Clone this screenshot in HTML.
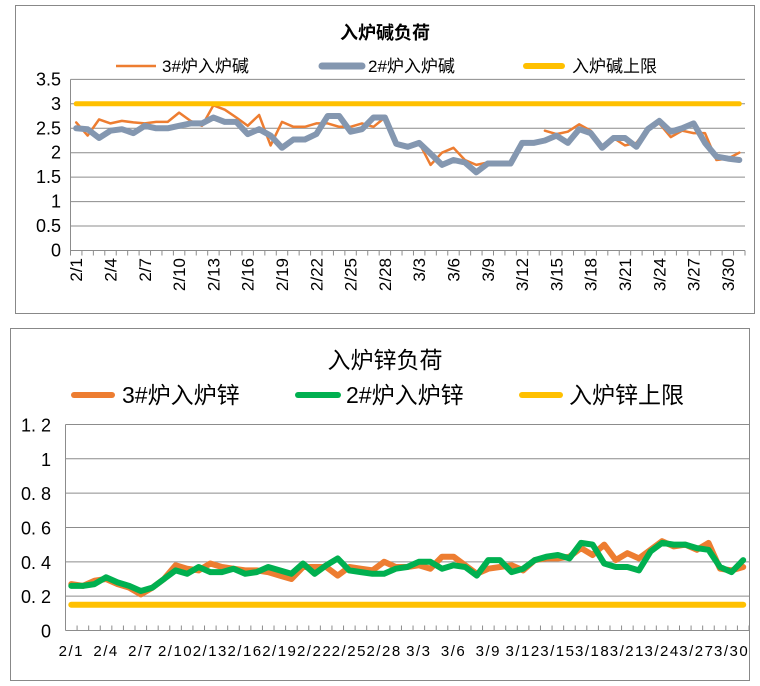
<!DOCTYPE html>
<html><head><meta charset="utf-8"><style>
body{margin:0;background:#fff;}
svg{display:block;font-family:"Liberation Sans","Noto Sans CJK SC",sans-serif;}
</style></head><body>
<svg id="s" width="760" height="686" xmlns="http://www.w3.org/2000/svg">
<rect x="15.5" y="5.5" width="739" height="308" fill="#fff" stroke="#888"/>
<rect x="10.5" y="328.5" width="739" height="352" fill="#fff" stroke="#888"/>
<text x="385" y="39" text-anchor="middle" font-size="18" font-weight="bold">入炉碱负荷</text>
<line x1="116" y1="66" x2="156" y2="66" stroke="#ED7D31" stroke-width="2.5"/>
<text x="162" y="72" font-size="17">3#炉入炉碱</text>
<line x1="322" y1="66" x2="362" y2="66" stroke="#8497B0" stroke-width="7" stroke-linecap="round"/>
<text x="368" y="72" font-size="17">2#炉入炉碱</text>
<line x1="526" y1="66" x2="562" y2="66" stroke="#FFC000" stroke-width="6" stroke-linecap="round"/>
<text x="572" y="72" font-size="17">入炉碱上限</text>
<text x="385" y="368" text-anchor="middle" font-size="23">入炉锌负荷</text>
<line x1="74" y1="395" x2="112" y2="395" stroke="#ED7D31" stroke-width="6" stroke-linecap="round"/>
<text x="122" y="403" font-size="23">3#炉入炉锌</text>
<line x1="298" y1="395" x2="338" y2="395" stroke="#00B050" stroke-width="6" stroke-linecap="round"/>
<text x="346" y="403" font-size="23">2#炉入炉锌</text>
<line x1="522" y1="395" x2="560" y2="395" stroke="#FFC000" stroke-width="6" stroke-linecap="round"/>
<text x="569" y="403" font-size="23">入炉锌上限</text>
<g id="g"></g>
</svg>
<script>
var NS="http://www.w3.org/2000/svg",g=document.getElementById('g');
function el(t,a,txt){var e=document.createElementNS(NS,t);for(var k in a)e.setAttribute(k,a[k]);if(txt!==undefined)e.textContent=txt;g.appendChild(e);return e;}
var labels=[];for(var i=1;i<=28;i++)labels.push('2/'+i);for(var i=1;i<=31;i++)labels.push('3/'+i);
var N=59;
function line(pts,color,w){var d='',pen=false;pts.forEach(function(p){if(p==null){pen=false;return;}d+=(pen?'L':'M')+p[0].toFixed(1)+' '+p[1].toFixed(1);pen=true;});el('path',{d:d,fill:'none',stroke:color,'stroke-width':w,'stroke-linejoin':'round','stroke-linecap':'round'});}
(function(){
var x0=70.5,x1=745,y0=250.5,sc=48.9,cw=(x1-x0)/N;
function X(i){return x0+cw*(i+0.5);}function Y(v){return y0-v*sc;}
for(var v=0.5;v<=3.51;v+=0.5)el('line',{x1:x0,x2:x1,y1:Y(v),y2:Y(v),stroke:'#8c8c8c','stroke-width':1});
for(var v=0;v<=3.51;v+=0.5)el('text',{x:61,y:Y(v)+6,'text-anchor':'end','font-size':18},String(v));
el('line',{x1:x0,x2:x0,y1:Y(3.5),y2:y0,stroke:'#8c8c8c'});
el('line',{x1:x0,x2:x1,y1:y0,y2:y0,stroke:'#8c8c8c'});
for(var i=0;i<=N;i++)el('line',{x1:x0+cw*i,x2:x0+cw*i,y1:y0,y2:y0+5,stroke:'#8c8c8c'});
for(var i=0;i<N;i+=3){el('text',{transform:'translate('+(X(i)+6)+',258) rotate(-90)','text-anchor':'end','font-size':17},labels[i]);}
var gy=[2.5,2.48,2.3,2.45,2.48,2.4,2.55,2.5,2.5,2.55,2.6,2.6,2.72,2.63,2.63,2.38,2.48,2.35,2.1,2.27,2.27,2.38,2.75,2.75,2.43,2.48,2.72,2.72,2.18,2.12,2.2,1.98,1.75,1.85,1.8,1.6,1.78,1.78,1.78,2.2,2.2,2.25,2.35,2.2,2.48,2.4,2.1,2.3,2.3,2.12,2.48,2.65,2.43,2.5,2.6,2.2,1.92,1.88,1.85];
var oy=[2.62,2.35,2.68,2.6,2.65,2.62,2.6,2.63,2.63,2.82,2.65,2.55,2.97,2.88,2.72,2.55,2.77,2.15,2.63,2.53,2.53,2.6,2.6,2.53,2.53,2.6,2.53,2.72,2.18,2.12,2.2,1.75,2.0,2.1,1.85,1.75,1.8,1.78,1.75,null,null,2.45,2.38,2.43,2.58,2.45,2.15,2.3,2.15,2.2,2.5,2.6,2.32,2.45,2.4,2.4,1.85,1.88,2.0];
line(oy.map(function(v,i){return v==null?null:[X(i),Y(v)];}),'#ED7D31',2.5);
line(gy.map(function(v,i){return [X(i),Y(v)];}),'#8497B0',6);
line([[X(0),Y(3)],[X(N-1),Y(3)]],'#FFC000',5);
})();
(function(){
var x0=65.5,x1=749,y0=630.5,sc=171.7,cw=(x1-x0)/N;
function X(i){return x0+cw*(i+0.5);}function Y(v){return y0-v*sc;}
for(var k=1;k<=6;k++){var v=k*0.2;el('line',{x1:x0,x2:x1,y1:Y(v),y2:Y(v),stroke:'#8c8c8c'});}
var yl=['0','0. 2','0. 4','0. 6','0. 8','1','1. 2'];
for(var k=0;k<=6;k++)el('text',{x:51,y:Y(k*0.2)+7,'text-anchor':'end','font-size':18},yl[k]);
el('line',{x1:x0,x2:x0,y1:Y(1.2),y2:y0,stroke:'#8c8c8c'});
el('line',{x1:x0,x2:x1,y1:y0,y2:y0,stroke:'#8c8c8c'});
for(var i=0;i<=N;i++)el('line',{x1:x0+cw*i,x2:x0+cw*i,y1:y0,y2:y0-5,stroke:'#8c8c8c'});
for(var i=0;i<N;i+=3)el('text',{x:X(i),y:656,'text-anchor':'middle','font-size':15,'letter-spacing':'1.5'},labels[i]);
var gr=[0.26,0.26,0.27,0.31,0.28,0.26,0.23,0.25,0.3,0.35,0.33,0.37,0.34,0.34,0.36,0.33,0.34,0.37,0.35,0.33,0.39,0.33,0.38,0.42,0.35,0.34,0.33,0.33,0.36,0.37,0.4,0.4,0.36,0.38,0.37,0.32,0.41,0.41,0.34,0.36,0.41,0.43,0.44,0.42,0.51,0.5,0.39,0.37,0.37,0.35,0.46,0.51,0.5,0.5,0.48,0.47,0.37,0.34,0.41];
var or=[0.27,0.26,0.29,0.3,0.27,0.25,0.21,0.25,0.3,0.38,0.36,0.35,0.39,0.37,0.36,0.35,0.35,0.34,0.32,0.3,0.37,0.37,0.37,0.32,0.37,0.36,0.35,0.4,0.37,0.37,0.38,0.36,0.43,0.43,0.38,0.33,0.36,0.37,0.38,0.35,0.41,0.42,0.42,0.43,0.48,0.44,0.5,0.41,0.45,0.42,0.47,0.52,0.49,0.5,0.47,0.51,0.36,0.35,0.37];
line(or.map(function(v,i){return [X(i),Y(v)];}),'#ED7D31',6);
line(gr.map(function(v,i){return [X(i),Y(v)];}),'#00B050',6);
line([[X(0),Y(0.15)],[X(N-1),Y(0.15)]],'#FFC000',6);
})();
</script>
</body></html>
